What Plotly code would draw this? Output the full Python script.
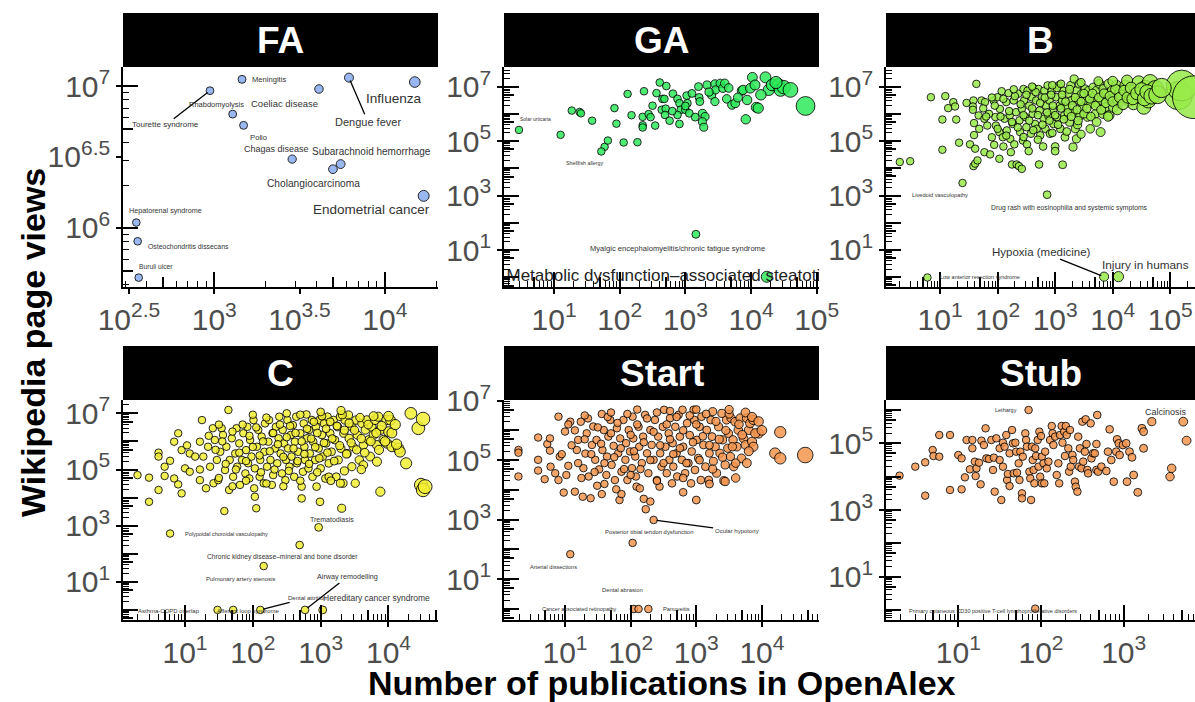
import math
import plotly.graph_objects as go

# ------------------------------------------------------------------
# DATA  (stored as log10 of the value)
# ------------------------------------------------------------------
panel_titles = ["FA", "GA", "B", "C", "Start", "Stub"]

# ---- FA (all points labelled)
fa_names = ["Meningitis", "Tourette syndrome", "Rhabdomyolysis", "Polio", "Coeliac disease",
            "Dengue fever", "Influenza", "Chagas disease", "Cholangiocarcinoma",
            "Subarachnoid hemorrhage", "Endometrial cancer", "Hepatorenal syndrome",
            "Osteochondritis dissecans", "Buruli ulcer"]
fa_log_pubs = [3.163, 2.975, 3.108, 3.172, 3.614, 3.790, 4.176, 3.457, 3.696, 3.741, 4.228, 2.543, 2.551, 2.557]
fa_log_views = [7.047, 6.967, 6.802, 6.723, 6.979, 7.059, 7.028, 6.485, 6.414, 6.450, 6.226, 6.038, 5.906, 5.650]

# ---- GA
ga_log_pubs = [1.27, 1.39, 1.41, 1.58, 1.10, 1.77, 1.82, 1.92, 1.95, 2.06, 2.12, 2.18, 2.27, 2.37, 2.35, 2.35,
               2.35, 2.44, 2.47, 2.54, 2.56, 2.61, 2.65, 2.68, 2.64, 2.71, 2.70, 2.69, 2.76, 2.81, 2.88, 2.91,
               3.02, 3.03, 2.93, 2.88, 2.91, 3.00, 3.06, 3.00, 3.15, 3.20, 3.21, 3.22, 3.26, 3.30, 3.26, 3.28,
               3.33, 3.40, 3.45, 3.46, 3.45, 3.53, 3.57, 3.60, 3.63, 3.71, 3.76, 3.86, 3.88, 3.92, 3.94, 3.99,
               4.02, 4.06, 4.08, 4.11, 4.22, 4.27, 4.32, 4.42, 4.45, 4.50, 4.60, 4.83,
               2.50, 2.80, 3.10, 3.36, 3.66, 3.80, 4.15, 4.38]
ga_log_views = [6.12, 6.07, 6.02, 5.75, 5.23, 4.79, 5.02, 6.21, 5.64, 4.95, 6.73, 5.95, 4.96, 6.83, 5.89, 5.58,
                5.50, 5.99, 5.88, 5.57, 6.76, 7.15, 6.55, 6.55, 6.15, 7.02, 6.19, 5.96, 5.75, 6.74, 6.55, 6.39,
                6.67, 6.39, 6.15, 5.96, 5.63, 6.15, 6.02, 6.29, 5.88, 7.00, 6.60, 6.45, 6.02, 5.90, 5.71, 5.51,
                7.06, 6.69, 7.10, 6.88, 6.45, 7.12, 6.94, 7.12, 6.55, 6.33, 6.39, 6.85, 6.88, 5.80, 6.51, 6.94,
                7.34, 7.06, 6.24, 6.21, 7.34, 6.88, 7.06, 7.06, 6.88, 6.98, 6.88, 6.29,
                6.30, 6.10, 6.75, 6.80, 6.95, 6.60, 6.70, 7.15]
ga_lab_names = ["Solar urticaria", "Shellfish allergy", "Myalgic encephalomyelitis/chronic fatigue syndrome"]
ga_lab_log_pubs = [0.466, 1.72, 3.16]
ga_lab_log_views = [5.41, 4.62, 1.58]
ga_clip_name = ["Metabolic dysfunction\u2013associated steatotic liver disease"]
ga_clip_log_pubs = [4.24]
ga_clip_log_views = [0.02]

# ---- B
b_log_pubs = [0.30, 0.48, 0.84, 1.04, 1.04, 1.09, 1.14, 1.23, 1.26, 1.28, 1.33, 1.46, 1.52, 1.58, 1.57, 1.57,
              1.59, 1.59, 1.61, 1.63, 1.58, 1.61, 1.65, 1.67, 1.68, 1.72, 1.77, 1.77, 1.78, 1.82, 1.87, 1.90,
              1.93, 1.94, 1.96, 1.97, 2.00, 2.03, 2.03, 2.04, 2.07, 2.09, 2.10, 2.12, 2.15, 2.16, 2.19, 2.21,
              2.22, 2.23, 2.25, 2.26, 2.28, 2.29, 2.32, 2.33, 2.36, 2.37, 2.38, 2.39, 2.42, 2.42, 2.44, 2.45,
              2.46, 2.48, 2.50, 2.51, 2.52, 2.54, 2.55, 2.58, 2.59, 2.61, 2.62, 2.65, 2.67, 2.68, 2.71, 2.72,
              2.73, 2.74, 2.77, 2.79, 2.80, 2.81, 2.83, 2.84, 2.87, 2.88, 2.90, 2.91, 2.94, 2.96, 2.97, 3.00,
              3.00, 3.02, 3.03, 3.06, 3.08, 3.09, 3.12, 3.13, 3.14, 3.16, 3.17, 3.20, 3.23, 3.25, 3.27, 3.29,
              3.31, 3.32, 3.33, 3.35, 3.37, 3.38, 3.39, 3.41, 3.42, 3.43, 3.46, 3.48, 3.52, 3.54, 3.56, 3.58,
              3.61, 3.62, 3.66, 3.67, 3.70, 3.72, 3.75, 3.77, 3.79, 3.81, 3.83, 3.84, 3.87, 3.90, 3.93, 3.94,
              3.96, 3.99, 4.01, 4.04, 4.07, 4.10, 4.13, 4.16, 4.22, 4.25, 4.28, 4.30, 4.36, 4.39, 4.45, 4.48,
              4.54, 4.57, 4.62, 4.65, 4.71, 4.74, 5.14, 5.20, 5.41,
              1.75, 1.85, 1.95, 2.05, 2.10, 2.20, 2.25, 2.30, 2.35, 2.40, 2.45, 2.50, 2.55, 2.60, 2.62, 2.66,
              2.70, 2.74, 2.78, 2.82, 2.86, 2.90, 2.93, 2.96, 3.00, 3.03, 3.05, 3.10, 3.12, 3.15, 3.18, 3.22,
              3.25, 3.28, 3.30, 3.35, 3.38, 3.40, 3.45, 3.50, 3.50, 3.55, 3.60, 3.62, 3.65, 3.70, 3.72, 3.76,
              3.80, 3.85, 3.88, 3.92, 3.95, 4.00, 4.05, 4.08, 4.12, 4.18, 4.20, 4.26, 4.32, 4.35, 4.42, 4.50,
              4.55, 4.60, 4.68, 4.78, 4.85, 2.15, 2.45, 2.70, 2.95, 3.20, 3.45, 2.00, 1.80, 1.90, 2.28, 2.60,
              2.95, 3.10, 3.45, 3.75, 4.00]
b_log_views = [4.23, 4.26, 6.61, 5.79, 4.68, 6.65, 6.21, 6.43, 6.27, 5.79, 4.94, 6.40, 4.88, 6.49, 6.27, 6.15,
               5.66, 5.22, 4.72, 7.10, 4.08, 4.17, 4.29, 5.94, 5.45, 6.49, 5.82, 4.59, 6.43, 5.57, 4.51, 5.14,
               6.49, 4.86, 5.88, 5.57, 6.61, 4.35, 5.33, 6.18, 6.83, 5.14, 4.80, 5.82, 6.43, 5.39, 6.76, 5.94,
               5.08, 4.59, 4.14, 5.63, 6.49, 4.88, 6.06, 4.14, 6.74, 4.08, 5.76, 5.33, 3.98, 6.18, 5.02, 6.91,
               6.49, 5.88, 5.51, 4.88, 6.85, 4.63, 6.30, 5.27, 6.61, 6.00, 6.95, 5.63, 6.49, 5.45, 6.91, 4.14,
               6.12, 5.21, 6.61, 4.80, 5.82, 6.85, 5.45, 6.30, 7.04, 5.94, 6.49, 5.27, 6.85, 6.12, 5.63, 4.80,
               4.63, 6.61, 5.88, 7.04, 6.30, 5.45, 6.49, 4.13, 6.85, 5.94, 5.14, 6.24, 6.74, 5.69, 7.04, 6.49,
               4.78, 6.06, 7.28, 5.45, 5.08, 6.85, 5.60, 6.49, 7.10, 5.94, 6.74, 6.24, 6.91, 6.49, 5.88, 6.85,
               5.45, 6.37, 6.97, 6.61, 6.00, 6.85, 6.37, 7.10, 5.33, 6.49, 6.00, 6.91, 6.24, 6.74, 7.10, 5.94,
               6.49, 6.85, 6.24, 6.61, 7.04, 6.43, 6.85, 6.67, 7.04, 7.22, 6.49, 6.85, 6.37, 6.85, 7.16, 6.61,
               6.24, 6.97, 6.49, 7.16, 6.85, 6.91, 6.67, 7.04, 6.61,
               6.20, 6.00, 6.30, 5.90, 6.55, 6.10, 5.70, 6.65, 5.50, 6.35, 5.95, 6.70, 5.75, 6.20, 5.40, 6.80,
               5.95, 6.40, 5.60, 6.60, 6.05, 5.75, 6.70, 6.30, 5.95, 6.95, 5.60, 6.20, 6.70, 5.80, 6.45, 6.05,
               6.90, 5.90, 6.30, 6.60, 6.15, 5.75, 6.45, 6.00, 6.75, 6.20, 6.55, 5.90, 6.75, 6.30, 5.70, 6.60,
               6.15, 6.75, 6.40, 5.90, 6.65, 6.45, 6.90, 6.15, 6.60, 6.35, 6.85, 6.60, 6.95, 6.55, 6.75, 6.90,
               6.55, 6.80, 6.65, 6.70, 6.95, 5.20, 5.15, 5.05, 5.30, 5.35, 5.25, 5.45, 5.90, 6.60, 6.90, 7.00,
               7.05, 7.10, 7.15, 7.20, 7.20]
b_lab_names = ["Livedoid vasculopathy", "Drug rash with eosinophilia and systemic symptoms",
               "Low anterior resection syndrome", "Hypoxia (medicine)", "Injury in humans"]
b_lab_log_pubs = [1.39, 2.86, 0.78, 3.85, 4.10]
b_lab_log_views = [3.46, 3.03, -0.01, 0.02, 0.02]

# ---- C
c_log_pubs = [0.30, 0.47, 0.47, 0.61, 0.61, 0.61, 0.70, 0.70, 0.78, 0.84, 0.84, 0.90, 0.90, 0.95, 0.95, 1.00,
              1.03, 1.07, 1.07, 1.15, 1.22, 1.22, 1.22, 1.25, 1.27, 1.31, 1.34, 1.37, 1.41, 1.42, 1.44, 1.47,
              1.49, 1.52, 1.54, 1.56, 1.58, 1.59, 1.61, 1.64, 1.65, 1.66, 1.69, 1.71, 1.74, 1.76, 1.77, 1.80,
              1.81, 1.84, 1.86, 1.89, 1.90, 1.92, 1.93, 1.95, 1.96, 1.98, 2.01, 2.02, 2.03, 2.03, 2.05, 2.06,
              2.08, 2.10, 2.11, 2.13, 2.16, 2.17, 2.18, 2.21, 2.23, 2.24, 2.26, 2.28, 2.29, 2.30, 2.33, 2.34,
              2.36, 2.38, 2.39, 2.41, 2.43, 2.44, 2.46, 2.48, 2.49, 2.51, 2.52, 2.54, 2.56, 2.57, 2.59, 2.61,
              2.62, 2.64, 2.65, 2.67, 2.70, 2.72, 2.72, 2.74, 2.75, 2.76, 2.77, 2.79, 2.80, 2.82, 2.83, 2.84,
              2.87, 2.88, 2.89, 2.92, 2.93, 2.94, 2.97, 2.98, 2.99, 3.00, 3.02, 3.03, 3.05, 3.07, 3.08, 3.10,
              3.12, 3.14, 3.16, 3.19, 3.21, 3.23, 3.25, 3.26, 3.29, 3.30, 3.31, 3.33, 3.34, 3.36, 3.39, 3.41,
              3.42, 3.46, 3.48, 3.51, 3.52, 3.54, 3.57, 3.61, 3.63, 3.66, 3.68, 3.71, 3.73, 3.75, 3.78, 3.80,
              3.83, 3.85, 3.88, 3.88, 3.93, 3.97, 3.98, 4.00, 4.03, 4.05, 4.15, 4.17, 4.26, 4.33, 4.44, 4.51,
              4.48, 4.51, 4.54, 3.46, 3.63, 3.83, 3.12, 3.29,
              1.45, 1.55, 1.60, 1.70, 1.75, 1.80, 1.85, 1.90, 1.95, 2.00, 2.05, 2.10, 2.12, 2.15, 2.20, 2.25,
              2.30, 2.32, 2.37, 2.40, 2.45, 2.50, 2.53, 2.55, 2.60, 2.63, 2.66, 2.70, 2.72, 2.76, 2.80, 2.83,
              2.86, 2.90, 2.92, 2.95, 2.98, 3.02, 3.05, 3.08, 3.10, 3.14, 3.17, 3.20, 3.24, 3.28, 3.32, 3.35,
              3.38, 3.42, 3.45, 3.50, 3.53, 3.58, 3.60, 3.65, 3.70, 3.74, 3.78, 3.82, 3.86, 3.90, 3.95, 4.00,
              4.05, 4.10, 4.12, 1.50, 1.70, 1.90, 2.20, 2.45, 2.70, 2.95, 3.15, 3.35, 3.60, 1.35, 1.50, 2.00,
              2.50, 3.00, 3.30]
c_log_views = [4.80, 4.71, 3.85, 5.60, 5.46, 4.27, 5.10, 4.77, 5.31, 5.99, 4.68, 6.29, 4.47, 5.69, 4.15, 5.04,
               5.86, 4.92, 5.57, 5.46, 5.99, 5.00, 4.62, 6.76, 5.46, 4.33, 5.81, 5.10, 6.47, 4.51, 6.05, 5.34,
               4.62, 5.63, 6.47, 6.23, 3.52, 4.98, 5.81, 7.12, 4.27, 5.34, 6.11, 4.74, 5.57, 6.47, 5.10, 5.93,
               4.45, 5.34, 6.29, 4.86, 5.69, 6.52, 5.22, 4.68, 6.05, 5.46, 6.76, 4.33, 4.03, 5.04, 3.62, 5.81,
               6.41, 4.74, 5.34, 6.17, 4.51, 5.63, 6.64, 5.10, 5.99, 6.76, 5.34, 4.45, 6.29, 4.80, 5.75, 6.52,
               5.22, 6.11, 6.88, 5.57, 4.86, 6.41, 5.93, 4.62, 5.34, 6.76, 5.75, 5.10, 6.23, 5.46, 6.58, 4.74,
               5.99, 6.88, 5.22, 5.63, 6.29, 4.39, 3.97, 4.92, 6.64, 5.81, 5.34, 6.96, 6.11, 5.04, 6.41, 5.57,
               6.76, 4.74, 5.99, 5.34, 6.52, 4.39, 5.75, 6.76, 3.85, 5.04, 6.23, 5.46, 6.64, 4.68, 5.93, 6.88,
               5.22, 6.29, 5.63, 6.76, 6.05, 4.74, 6.52, 5.34, 6.88, 5.75, 3.62, 4.51, 6.29, 6.76, 5.57, 6.94,
               6.11, 6.52, 5.81, 4.51, 6.76, 6.23, 5.34, 6.64, 5.87, 6.41, 6.76, 6.05, 5.46, 6.52, 6.23, 6.76,
               5.87, 6.88, 4.21, 6.41, 6.05, 6.76, 5.93, 6.35, 6.76, 5.81, 5.75, 5.63, 5.22, 7.00, 6.47, 6.80,
               4.45, 4.27, 4.39, 5.10, 5.16, 5.28, 4.74, 4.51,
               5.70, 6.00, 5.20, 6.35, 5.00, 5.60, 6.60, 5.30, 6.20, 5.80, 6.50, 5.50, 4.90, 6.00, 6.85, 5.65,
               6.30, 5.00, 5.90, 6.60, 5.45, 6.15, 4.95, 6.55, 5.75, 6.30, 5.30, 6.95, 6.00, 5.55, 6.45, 5.20,
               6.10, 6.70, 5.80, 6.30, 5.40, 6.90, 5.95, 6.45, 5.60, 6.70, 6.10, 5.30, 6.55, 5.85, 6.95, 6.40,
               5.55, 6.65, 5.95, 6.40, 5.70, 6.85, 6.10, 5.60, 6.60, 6.00, 6.90, 6.30, 5.70, 6.55, 6.00, 6.90,
               6.30, 6.60, 5.90, 4.70, 4.40, 4.60, 4.50, 4.40, 4.60, 4.90, 4.60, 4.95, 5.00, 6.20, 6.60, 6.95,
               7.00, 7.05, 7.10]
c_lab_names = ["Polypoidal choroidal vasculopathy", "Trematodiasis",
               "Chronic kidney disease\u2013mineral and bone disorder", "Pulmonary artery stenosis",
               "Asthma-COPD overlap", "Afferent loop syndrome", "Dental attrition", "Airway remodelling",
               "Hereditary cancer syndrome"]
c_lab_log_pubs = [0.78, 2.97, 2.69, 2.16, 1.48, 1.71, 2.11, 2.77, 3.03]
c_lab_log_views = [2.72, 2.94, 2.31, 1.56, 0.0, 0.0, 0.0, 0.0, 0.0]

# ---- Start
st_log_pubs = [0.29, 0.29, 0.29, 0.59, 0.59, 0.59, 0.69, 0.73, 0.77, 0.77, 0.78, 0.85, 0.90, 0.90, 0.92, 0.98,
               1.00, 1.02, 1.05, 1.08, 1.15, 1.18, 1.20, 1.24, 1.27, 1.28, 1.31, 1.33, 1.36, 1.39, 1.41, 1.43,
               1.46, 1.48, 1.49, 1.52, 1.56, 1.56, 1.57, 1.59, 1.63, 1.64, 1.66, 1.69, 1.71, 1.74, 1.76, 1.78,
               1.79, 1.81, 1.83, 1.84, 1.86, 1.86, 1.89, 1.92, 1.93, 1.95, 1.97, 1.99, 2.02, 2.03, 2.04, 2.07,
               2.08, 2.09, 2.12, 2.13, 2.14, 2.17, 2.19, 2.20, 2.23, 2.22, 2.25, 2.27, 2.30, 2.30, 2.32, 2.35,
               2.37, 2.40, 2.42, 2.44, 2.45, 2.47, 2.49, 2.51, 2.53, 2.55, 2.58, 2.59, 2.60, 2.63, 2.64, 2.65,
               2.68, 2.70, 2.71, 2.73, 2.75, 2.78, 2.79, 2.80, 2.80, 2.83, 2.86, 2.88, 2.90, 2.92, 2.93, 2.96,
               2.97, 2.98, 3.00, 3.01, 3.03, 3.05, 3.07, 3.08, 3.11, 3.14, 3.16, 3.19, 3.20, 3.22, 3.24, 3.25,
               3.26, 3.29, 3.31, 3.34, 3.36, 3.39, 3.40, 3.42, 3.44, 3.44, 3.46, 3.48, 3.49, 3.52, 3.53, 3.56,
               3.57, 3.59, 3.62, 3.64, 3.67, 3.69, 3.72, 3.75, 3.77, 3.80, 3.82, 3.85, 3.87, 3.87, 3.95, 3.77,
               4.28, 4.20, 4.28, 4.66,
               1.10, 1.15, 1.20, 1.30, 1.35, 1.40, 1.45, 1.50, 1.55, 1.60, 1.65, 1.70, 1.75, 1.80, 1.85, 1.90,
               1.95, 2.00, 2.05, 2.10, 2.15, 2.20, 2.25, 2.30, 2.35, 2.40, 2.45, 2.50, 2.55, 2.60, 2.65, 2.70,
               2.75, 2.80, 2.85, 2.90, 2.95, 3.00, 3.05, 3.10, 3.15, 3.20, 3.25, 3.30, 3.35, 3.40, 3.45, 3.50,
               3.55, 3.60, 3.65, 3.70, 3.75, 3.80, 3.85, 3.90, 3.95, 4.00, 1.25, 1.60, 2.00, 2.40, 2.80, 3.20,
               3.60, 0.95, 1.05, 1.30, 1.70, 2.10, 2.60, 3.00, 3.50]
st_log_views = [5.34, 5.25, 4.45, 5.76, 5.01, 4.65, 4.36, 5.54, 5.73, 5.32, 4.78, 4.56, 6.46, 4.33, 5.12, 3.91,
                5.96, 4.50, 4.81, 6.29, 3.94, 5.34, 5.68, 6.29, 3.77, 4.73, 5.22, 5.90, 4.45, 3.72, 5.51, 6.13,
                5.01, 5.68, 4.14, 4.69, 3.86, 6.55, 5.34, 6.01, 4.50, 5.12, 5.79, 6.35, 4.84, 5.48, 4.33, 4.02,
                6.07, 5.23, 3.66, 5.73, 4.61, 3.86, 6.35, 5.01, 5.57, 4.33, 6.01, 5.29, 4.73, 6.46, 5.73, 5.12,
                4.45, 4.11, 6.12, 5.45, 4.05, 4.90, 5.79, 3.70, 3.35, 6.52, 5.23, 4.56, 3.61, 6.01, 5.51, 5.01,
                6.35, 4.33, 5.79, 4.11, 5.23, 4.78, 6.12, 6.69, 5.45, 4.56, 5.90, 5.01, 6.41, 4.22, 5.57, 4.78,
                6.12, 5.23, 4.45, 6.52, 5.79, 5.01, 6.69, 3.92, 5.45, 4.56, 6.24, 4.90, 5.84, 4.22, 5.29, 6.69,
                6.35, 4.67, 3.66, 5.68, 5.07, 6.12, 4.33, 6.46, 5.51, 4.78, 6.01, 4.33, 5.23, 6.35, 5.79, 6.63,
                4.96, 5.45, 4.56, 6.12, 5.23, 6.57, 5.68, 4.31, 4.28, 4.84, 6.35, 5.40, 5.90, 5.12, 6.41, 5.68,
                4.78, 6.29, 5.45, 6.01, 6.41, 5.06, 5.73, 5.51, 6.41, 6.01, 6.24, 5.62, 6.35, 5.45, 5.90, 4.90,
                5.94, 5.23, 5.06, 5.17,
                5.50, 6.00, 4.90, 5.70, 6.40, 5.20, 4.60, 6.10, 5.55, 4.90, 6.45, 5.90, 5.10, 6.25, 5.40, 4.70,
                6.55, 5.85, 5.30, 6.20, 4.70, 5.60, 6.40, 5.00, 5.95, 6.60, 5.50, 4.90, 6.20, 5.70, 5.20, 6.45,
                5.40, 6.00, 4.90, 6.50, 5.60, 6.20, 5.00, 5.80, 6.55, 5.50, 4.70, 6.30, 5.70, 5.10, 6.00, 6.55,
                5.45, 4.90, 6.20, 5.85, 6.60, 5.30, 6.45, 5.90, 6.30, 6.00, 4.40, 4.20, 4.50, 4.30, 4.40, 4.20,
                4.40, 5.20, 6.20, 6.50, 6.60, 6.70, 6.65, 6.70, 6.70]
st_lab_names = ["Arterial dissections", "Posterior tibial tendon dysfunction", "Ocular hypotony",
                "Cancer associated retinopathy", "Dental abrasion", "Panuveitis"]
st_lab_log_pubs = [1.08, 2.03, 2.35, 2.05, 2.12, 2.27]
st_lab_log_views = [1.84, 2.22, 2.99, 0.0, 0.0, 0.0]

# ---- Stub
sb_log_pubs = [0.29, 0.48, 0.60, 0.60, 0.69, 0.70, 0.77, 0.77, 0.90, 0.90, 1.00, 1.04, 1.04, 1.08, 1.10, 1.14,
               1.17, 1.17, 1.20, 1.21, 1.22, 1.25, 1.27, 1.28, 1.31, 1.33, 1.34, 1.37, 1.40, 1.42, 1.43, 1.44,
               1.46, 1.50, 1.50, 1.52, 1.54, 1.54, 1.56, 1.58, 1.59, 1.60, 1.62, 1.62, 1.65, 1.66, 1.67, 1.69,
               1.70, 1.71, 1.73, 1.74, 1.75, 1.77, 1.77, 1.78, 1.81, 1.82, 1.83, 1.86, 1.87, 1.88, 1.89, 1.90,
               1.91, 1.92, 1.93, 1.94, 1.96, 1.97, 1.98, 1.99, 2.00, 2.01, 2.01, 2.03, 2.04, 2.05, 2.07, 2.09,
               2.11, 2.13, 2.14, 2.15, 2.17, 2.19, 2.21, 2.22, 2.23, 2.25, 2.26, 2.28, 2.29, 2.30, 2.31, 2.33,
               2.34, 2.35, 2.36, 2.38, 2.39, 2.41, 2.42, 2.44, 2.45, 2.46, 2.47, 2.49, 2.50, 2.51, 2.53, 2.54,
               2.55, 2.56, 2.57, 2.60, 2.61, 2.63, 2.65, 2.67, 2.67, 2.68, 2.69, 2.73, 2.79, 2.81, 2.83, 2.85,
               2.88, 2.91, 2.92, 2.94, 2.95, 2.99, 3.03, 3.04, 3.07, 3.10, 3.12, 3.17, 3.22, 3.24, 3.24, 3.34,
               3.56, 3.58, 3.76]
sb_log_views = [4.03, 4.30, 4.43, 3.43, 4.80, 4.62, 4.60, 5.25, 5.25, 3.60, 4.65, 3.62, 4.55, 3.98, 5.10, 4.22,
                4.85, 5.10, 4.45, 4.02, 4.25, 4.42, 3.77, 5.08, 4.95, 5.45, 4.55, 4.53, 5.10, 4.20, 4.57, 3.55,
                5.15, 4.85, 4.50, 3.30, 4.30, 5.02, 4.90, 5.25, 3.90, 4.08, 4.70, 3.72, 5.40, 5.00, 4.10, 5.02,
                4.75, 4.12, 4.40, 3.90, 4.75, 3.50, 3.35, 4.60, 5.30, 5.10, 4.90, 4.15, 3.95, 3.30, 4.90, 4.50,
                4.20, 3.80, 4.85, 4.62, 5.10, 4.30, 5.35, 4.00, 5.22, 4.60, 3.80, 4.40, 3.80, 4.75, 4.25, 4.45,
                5.10, 5.52, 5.30, 4.95, 5.20, 4.05, 4.40, 3.80, 5.25, 5.52, 5.02, 5.35, 4.62, 5.52, 5.25, 4.85,
                4.15, 5.40, 4.30, 4.65, 4.50, 3.85, 3.70, 3.55, 5.20, 4.30, 4.85, 4.25, 5.65, 4.45, 4.75, 5.72,
                4.98, 4.20, 4.10, 5.60, 4.55, 4.70, 4.70, 4.20, 4.98, 5.85, 4.15, 4.30, 4.17, 4.75, 5.42, 4.50,
                3.85, 4.75, 5.12, 5.00, 4.65, 4.95, 5.00, 3.85, 4.75, 4.58, 4.05, 3.53, 5.45, 5.35, 4.85, 5.65,
                4.00, 4.25, 5.08]
sb_lab_names = ["Lethargy", "Calcinosis", "Perinephritis",
                "Primary cutaneous CD30 positive T-cell lymphoproliferative disorders"]
sb_lab_log_pubs = [1.85, 3.72, 0.0, 1.93]
sb_lab_log_views = [6.00, 5.65, 3.0, 0.04]

# ------------------------------------------------------------------
# STYLE
# ------------------------------------------------------------------
W, H = 1195, 702
FONT = "Liberation Sans, Arial, sans-serif"
LABEL_COLOR = "#333333"
TICK_COLOR = "#4D4D4D"
colors = ["#88ACEF", "#2DEB5A", "#98EB48", "#F2EE34", "#F5964E", "#F5964E"]

# label offsets in pixels (dx right, dy down), font size, connector segment
label_style = {
    "Meningitis": (27, 0, 7.6, False), "Tourette syndrome": (-44, 34, 8, True),
    "Rhabdomyolysis": (-16, -10, 7.5, False), "Polio": (15, 12, 7.7, False),
    "Coeliac disease": (-34, 14, 9.5, False), "Dengue fever": (19, 44, 11, True),
    "Influenza": (-21, 16, 13.6, False), "Chagas disease": (-16, -10, 9, False),
    "Cholangiocarcinoma": (-19, 14, 10.2, False), "Subarachnoid hemorrhage": (31, -13, 10, False),
    "Endometrial cancer": (-52, 14, 13.5, False), "Hepatorenal syndrome": (29, -12, 7.2, False),
    "Osteochondritis dissecans": (51, 5, 6.9, False), "Buruli ulcer": (17, -11, 6.7, False),
    "Solar urticaria": (17, -11, 5, False), "Shellfish allergy": (-17, 12, 5.3, False),
    "Myalgic encephalomyelitis/chronic fatigue syndrome": (-18, 14, 7.6, False),
    "Livedoid vasculopathy": (-23, 12, 5.7, False),
    "Drug rash with eosinophilia and systemic symptoms": (22, 13, 6.8, False),
    "Low anterior resection syndrome": (53, 0, 5.5, False),
    "Hypoxia (medicine)": (-63, -25, 11.5, True), "Injury in humans": (27, -12, 11.8, False),
    "Polypoidal choroidal vasculopathy": (56, 0, 5.5, False), "Trematodiasis": (13, -8, 7, False),
    "Chronic kidney disease\u2013mineral and bone disorder": (-17, 12, 6.7, False),
    "Pulmonary artery stenosis": (-23, 13, 6, False), "Asthma-COPD overlap": (-49, 1, 6, False),
    "Afferent loop syndrome": (15, 1, 6, False), "Dental attrition": (47, -12, 6, True),
    "Airway remodelling": (42, -33, 7.2, True), "Hereditary cancer syndrome": (54, -12, 8.5, False),
    "Arterial dissections": (-17, 13, 5.6, False),
    "Posterior tibial tendon dysfunction": (16, -11, 5.9, False),
    "Ocular hypotony": (83, 11, 6, True), "Cancer associated retinopathy": (-54, 0, 5.5, False),
    "Dental abrasion": (-16, -19, 5.8, False), "Panuveitis": (28, 0, 5.8, False),
    "Lethargy": (-23, 0, 5.5, False), "Calcinosis": (-17, -10, 9, False),
    "Perinephritis": (35, -1, 5, False),
    "Primary cutaneous CD30 positive T-cell lymphoproliferative disorders": (-42, 2, 5.5, False),
}

# panel geometry (pixels in the 1195x702 page)
px_x = [(123, 438), (504, 819), (886, 1195), (123, 438), (504, 819), (886, 1195)]
px_y = [(67, 287), (67, 287), (67, 287), (400, 620), (400, 620), (400, 620)]
x_ranges = [(2.465, 4.312), (0.238, 5.035), (0.06, 5.43), (0.086, 4.73), (0.07, 4.87), (0.126, 3.862)]
y_ranges = [(5.584, 7.134), (-0.355, 7.72), (-0.36, 7.72), (-0.36, 7.475), (-0.37, 7.02), (-0.30, 6.30)]
x_labels = [[2.5, 3, 3.5, 4], [1, 2, 3, 4, 5], [1, 2, 3, 4, 5], [1, 2, 3, 4], [1, 2, 3, 4], [1, 2, 3]]
y_labels = [[6, 6.5, 7], [1, 3, 5, 7], [1, 3, 5, 7], [1, 3, 5, 7], [1, 3, 5, 7], [1, 3, 5]]


def marker_diam(lp):
    return 7.5 + 21 * (10 ** lp / 1.4e5) ** 0.85


def logticks(lo, hi):
    dec, fiv, sml = [], [], []
    for k in range(math.floor(lo) - 1, math.ceil(hi) + 1):
        for m in range(1, 10):
            v = m * 10 ** k
            if lo <= math.log10(v) <= hi:
                (dec if m == 1 else fiv if m == 5 else sml).append(v)
    return dec, fiv, sml


def sup_label(v):
    return "10<sup>%s</sup>" % ("%g" % v)


panels = [
    (fa_log_pubs, fa_log_views, fa_names, fa_log_pubs, fa_log_views),
    (ga_log_pubs + ga_lab_log_pubs + ga_clip_log_pubs, ga_log_views + ga_lab_log_views + ga_clip_log_views,
     ga_lab_names, ga_lab_log_pubs, ga_lab_log_views),
    (b_log_pubs + b_lab_log_pubs, b_log_views + b_lab_log_views, b_lab_names, b_lab_log_pubs, b_lab_log_views),
    (c_log_pubs + c_lab_log_pubs, c_log_views + c_lab_log_views, c_lab_names, c_lab_log_pubs, c_lab_log_views),
    (st_log_pubs + st_lab_log_pubs, st_log_views + st_lab_log_views, st_lab_names, st_lab_log_pubs,
     st_lab_log_views),
    (sb_log_pubs + sb_lab_log_pubs, sb_log_views + sb_lab_log_views, sb_lab_names, sb_lab_log_pubs,
     sb_lab_log_views),
]

fig = go.Figure()
layout = dict(width=W, height=H, autosize=False, margin=dict(l=0, r=0, t=0, b=0, pad=0),
              paper_bgcolor="white", plot_bgcolor="white", showlegend=False, font=dict(family=FONT))
annotations, shapes = [], []

for i in range(6):
    n = i + 1
    xn = "x" if n == 1 else "x%d" % n
    yn = "y" if n == 1 else "y%d" % n
    xo, yo = "x%d" % (n + 6), "y%d" % (n + 6)
    x0, x1 = px_x[i]
    ytop, ybot = px_y[i]
    xdom = [x0 / W, min(x1 / W, 1.0)]
    ydom = [(H - ybot) / H, (H - ytop) / H]
    xr, yr = x_ranges[i], y_ranges[i]
    xdec, xfiv, xsml = logticks(*xr)
    ydec, yfiv, ysml = logticks(*yr)
    base = dict(type="log", showline=True, linecolor="black", linewidth=1.6, ticks="outside", ticklen=5,
                tickwidth=1.6, tickcolor="black", tickmode="array", showgrid=False, zeroline=False,
                automargin=False, tickfont=dict(size=30, color=TICK_COLOR, family=FONT))
    layout["xaxis" + ("" if n == 1 else str(n))] = dict(
        base, domain=xdom, anchor=yn, range=list(xr),
        tickvals=[10 ** v for v in x_labels[i]], ticktext=[sup_label(v) for v in x_labels[i]],
        minor=dict(tickmode="array", tickvals=xsml, ticks="inside", ticklen=6, tickwidth=1.3,
                   tickcolor="black", showgrid=False))
    layout["yaxis" + ("" if n == 1 else str(n))] = dict(
        base, domain=ydom, anchor=xn, range=list(yr),
        tickvals=[10 ** v for v in y_labels[i]], ticktext=[sup_label(v) for v in y_labels[i]],
        minor=dict(tickmode="array", tickvals=ysml, ticks="inside", ticklen=6, tickwidth=1.3,
                   tickcolor="black", showgrid=False))
    over = dict(type="log", showline=False, showgrid=False, zeroline=False, showticklabels=False,
                automargin=False, ticks="inside", ticklen=15, tickwidth=1.8, tickcolor="black",
                tickmode="array")
    layout["xaxis%d" % (n + 6)] = dict(over, overlaying=xn, anchor=yn, range=list(xr), tickvals=xdec,
                                       minor=dict(tickmode="array", tickvals=xfiv, ticks="inside", ticklen=10,
                                                  tickwidth=1.5, tickcolor="black", showgrid=False))
    layout["yaxis%d" % (n + 6)] = dict(over, overlaying=yn, anchor=xn, range=list(yr), tickvals=ydec,
                                       minor=dict(tickmode="array", tickvals=yfiv, ticks="inside", ticklen=10,
                                                  tickwidth=1.5, tickcolor="black", showgrid=False))
    fig.add_trace(go.Scatter(x=[], y=[], xaxis=xo, yaxis=yn, hoverinfo="skip"))
    fig.add_trace(go.Scatter(x=[], y=[], xaxis=xn, yaxis=yo, hoverinfo="skip"))

    lp, lv, names, nlp, nlv = panels[i]
    fig.add_trace(go.Scatter(
        x=[10 ** v for v in lp], y=[10 ** v for v in lv], xaxis=xn, yaxis=yn, mode="markers",
        marker=dict(size=[marker_diam(v) for v in lp], color=colors[i], opacity=0.85,
                    line=dict(color="black", width=1)),
        hoverinfo="skip"))

    for name, a, b in zip(names, nlp, nlv):
        dx, dy, fs, seg = label_style[name]
        ann = dict(x=a, y=b, xref=xn, yref=yn, text=name, font=dict(size=fs, color=LABEL_COLOR, family=FONT))
        if seg:
            ann.update(showarrow=True, arrowhead=0, arrowwidth=1.3, arrowcolor="black", ax=dx, ay=dy,
                       standoff=3)
        else:
            ann.update(showarrow=False, xshift=dx, yshift=-dy)
        annotations.append(ann)

    # facet strip
    shapes.append(dict(type="rect", xref=xn + " domain", yref=yn + " domain", x0=0, x1=1, y0=1,
                       y1=1 + 54 / 220, fillcolor="black", line=dict(width=0), layer="above"))
    annotations.append(dict(xref=xn + " domain", yref=yn + " domain", x=0.5, y=1 + 27 / 220,
                            text="<b>%s</b>" % panel_titles[i], showarrow=False,
                            font=dict(size=37, color="white", family=FONT), yanchor="middle"))

# clipped GA label (text node clipped to the panel, as in the original); trailing
# non-breaking spaces nudge the repelled label to the left like in the original
fig.add_trace(go.Scatter(x=[10 ** v for v in ga_clip_log_pubs], y=[10 ** v for v in ga_clip_log_views],
                         xaxis="x2", yaxis="y2", mode="text",
                         text=[t + "\u00a0" * 21 for t in ga_clip_name], textposition="middle center",
                         textfont=dict(size=17, color="#222222", family=FONT), cliponaxis=True,
                         hoverinfo="skip"))

annotations.append(dict(xref="paper", yref="paper", x=662 / W, y=(H - 683) / H, showarrow=False,
                        text="<b>Number of publications in OpenAlex</b>",
                        font=dict(size=34, color="black", family=FONT), yanchor="middle"))
annotations.append(dict(xref="paper", yref="paper", x=33 / W, y=(H - 343) / H, showarrow=False,
                        text="<b>Wikipedia page views</b>", textangle=-90,
                        font=dict(size=34, color="black", family=FONT), xanchor="center", yanchor="middle"))

layout["annotations"] = annotations
layout["shapes"] = shapes
fig.update_layout(**layout)
fig.write_html("out.html", config={"displayModeBar": False, "responsive": False},
               post_script="document.body.style.margin='0px';")
